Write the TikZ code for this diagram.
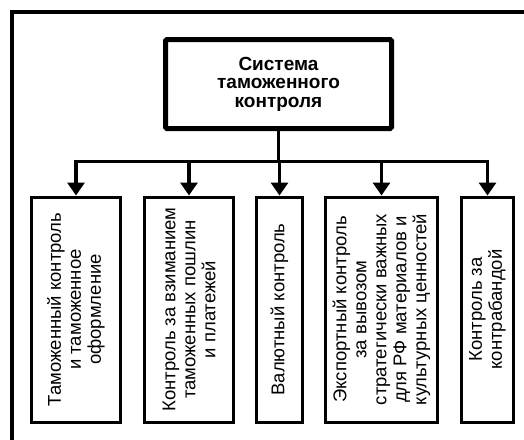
\documentclass[tikz,border=0pt]{standalone}
\usepackage{fontspec}
\setmainfont{Liberation Sans}
\usetikzlibrary{arrows.meta}

\begin{document}
\begin{tikzpicture}[x=1pt, y=-1pt,
  rootbox/.style={draw, line width=5pt, rounded corners=1.5pt, minimum width=226pt,
    minimum height=89pt, align=center, inner sep=0pt,
    font=\bfseries\fontsize{19}{18.5}\selectfont},
  % branch boxes are turned upright: their east anchor is the top edge
  branchbox/.style={draw, line width=3pt, rotate=90, minimum width=225pt,
    align=center, inner sep=0pt, font=\fontsize{18.5}{20}\selectfont},
  link/.style={line width=3.5pt},
  arrowlink/.style={link, -{Triangle[width=17pt, length=13pt]}}]

\useasboundingbox (0,0) rectangle (524,439);

% outer frame (only its top and left sides fall on the page)
\draw[line width=4pt] (11.7,445) -- (11.7,12) -- (530,12);

\node[rootbox] (root) at (278.5,84) {Система\\таможенного\\контроля};

\node[branchbox, minimum height=89pt] (b1) at (76,309.5)
  {Таможенный контроль\\и таможенное\\оформление};
\node[branchbox, minimum height=89pt] (b2) at (189,309.5)
  {Контроль за взиманием\\таможенных пошлин\\и платежей};
\node[branchbox, minimum height=46pt] (b3) at (279.5,309.5)
  {Валютный контроль};
\node[branchbox, minimum height=112pt] (b4) at (381.5,309.5)
  {Экспортный контроль\\за вывозом\\стратегически важных\\для РФ материалов и\\культурных ценностей};
\node[branchbox, minimum height=52pt] (b5) at (487.5,309.5)
  {Контроль за\\контрабандой};

\coordinate (bus) at (279,161.3);

\draw[link] (root.south) -- (root.south |- bus);
\draw[link, line cap=rect] (b1.east |- bus) -- (b5.east |- bus);
\foreach \b in {b1,b2,b3,b4,b5}
  \draw[arrowlink] (\b.east |- bus) -- (\b.east);

\end{tikzpicture}
\end{document}
